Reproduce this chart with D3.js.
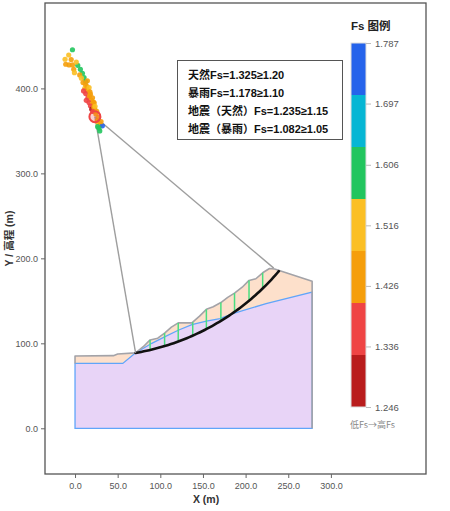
<!DOCTYPE html>
<meta charset="utf-8">
<script src="https://d3js.org/d3.v7.min.js"></script>
<style>
  body { margin: 0; background: #fff; }
  text { font-family: "Liberation Sans", Arial, "Noto Sans CJK SC", sans-serif; }
  .cjk { font-family: "Noto Sans CJK SC", "Noto Sans", sans-serif; }
  .mix { font-family: "Liberation Sans", Arial, "Noto Sans CJK SC", sans-serif; }
</style>
<div id="chart"></div>
<script>
// ground surface (top of model) in metres
var groundX = [0, 45, 50, 71, 80, 88, 97, 105, 113, 121, 137, 146, 154, 162, 171, 179, 187, 196, 204, 212, 220, 228, 234, 278];
var groundY = [85, 85.5, 87.5, 88.7, 96, 104, 106, 112, 119, 124, 124, 132, 140, 143, 148, 154, 159, 166, 174, 176, 183, 188, 187.5, 173];

// soil layer boundary (blue line)
var layerX = [0, 56, 70, 90, 105, 121, 137, 154, 170, 185, 224, 278];
var layerY = [76.3, 76.3, 88, 100, 107.5, 115.4, 122, 126, 129, 135, 146.7, 160.3];

// critical slip circle
var slipCenter = [23.3, 366.7];
var slipToe = [71, 88.7];
var slipEndX = 239;
var radiusEnd = [233, 188.5];

// slice boundaries
var sliceX = [88, 105, 121, 138, 154, 171, 187, 204, 220];

// searched circle centers and their Fs
var centerX  = [-3.0, -7.4, -11.7, -10.9, -7.0, -3.0, 3.2, -1.5, 6.3, -0.7, 8.7, 5.5, 10.6, 7.5, 12.5, 9.4, 12.5, 11.4, 14.0, 15.2, 12.5, 18.1, 15.2, 17.0, 19.2, 16.4, 20.4, 21.5, 18.1, 19.6, 23.1, 22.0, 21.1, 24.5, 27.0, 26.0, 29.5, 32.1, 28.1,
                14.5, 16.5, 17.5, 20.5, 22.5, 23.5, 25.5, 27.5, 30.5, 29.0, 26.5, -4.5, 1.5, 10.0, 13.2];
var centerY  = [445.5, 439.3, 434.3, 428.4, 427.6, 427.6, 427.2, 422.5, 422.5, 418.5, 417.8, 415.8, 412.7, 412.0, 408.0, 406.8, 404.1, 400.2, 402.0, 397.1, 393.9, 393.2, 389.2, 391.0, 386.2, 383.3, 381.5, 384.0, 379.5, 375.6, 375.6, 378.0, 372.8, 370.0, 359.9, 362.0, 357.0, 356.0, 353.3,
                409.0, 401.0, 396.0, 389.0, 383.0, 379.0, 373.0, 366.0, 361.0, 350.0, 355.0, 434.0, 431.0, 397.0, 386.0];
var centerFs = [1.59, 1.52, 1.52, 1.45, 1.45, 1.45, 1.59, 1.44, 1.59, 1.52, 1.59, 1.44, 1.59, 1.52, 1.59, 1.44, 1.44, 1.52, 1.45, 1.44, 1.36, 1.45, 1.36, 1.44, 1.45, 1.36, 1.52, 1.45, 1.36, 1.28, 1.44, 1.45, 1.36, 1.44, 1.52, 1.45, 1.45, 1.75, 1.59,
                1.45, 1.52, 1.45, 1.44, 1.45, 1.52, 1.44, 1.44, 1.45, 1.59, 1.59, 1.45, 1.52, 1.36, 1.36];

// result lines
var resultLines = ["天然Fs=1.325≥1.20", "暴雨Fs=1.178≥1.10", "地震（天然）Fs=1.235≥1.15", "地震（暴雨）Fs=1.082≥1.05"];

// legend
var legendColors = ["#b91c1c", "#ef4444", "#f59e0b", "#fbbf24", "#22c55e", "#06b6d4", "#2563eb"];
var legendTicks = [1.246, 1.336, 1.426, 1.516, 1.606, 1.697, 1.787];

var xTicks = [0, 50, 100, 150, 200, 250, 300];
var yTicks = [0, 100, 200, 300, 400];

var W = 450, H = 511;
var margin = {top: 3, left: 45, right: 24, bottom: 37};

var svg = d3.select("#chart").append("svg")
  .attr("width", W).attr("height", H);

var x = d3.scaleLinear().domain([-35.2, 411.5]).range([margin.left, W - margin.right]);
var y = d3.scaleLinear().domain([-53.8, 500.5]).range([H - margin.bottom, margin.top]);

var color = d3.scaleQuantize().domain([legendTicks[0], legendTicks[legendTicks.length - 1]]).range(legendColors);

// model
var surface = groundX.map(function(d, i) { return [d, groundY[i]]; });
var layer = layerX.map(function(d, i) { return [d, layerY[i]]; });
var xMax = groundX[groundX.length - 1];

var line = d3.line().x(function(d) { return x(d[0]); }).y(function(d) { return y(d[1]); });

svg.append("path")
  .attr("d", line(surface.concat([[xMax, 0], [0, 0]])) + "Z")
  .attr("fill", "#fde0cb");

svg.append("path")
  .attr("d", line(layer.concat([[xMax, 0], [0, 0]])) + "Z")
  .attr("fill", "#e8d4f7")
  .attr("stroke", "#60a5fa")
  .attr("stroke-width", 1.3);

svg.append("path")
  .attr("d", line([[0, layerY[0]]].concat(surface).concat([[xMax, 0]])))
  .attr("fill", "none")
  .attr("stroke", "#a3a3a8")
  .attr("stroke-width", 1.6)
  .attr("stroke-linejoin", "round");

// slip circle helpers
var R = Math.hypot(slipToe[0] - slipCenter[0], slipToe[1] - slipCenter[1]);
function arcY(px) { return slipCenter[1] - Math.sqrt(R * R - (px - slipCenter[0]) * (px - slipCenter[0])); }
function surfY(px) {
  for (var i = 1; i < groundX.length; i++) {
    if (px <= groundX[i]) {
      var t = (px - groundX[i - 1]) / (groundX[i] - groundX[i - 1]);
      return groundY[i - 1] + t * (groundY[i] - groundY[i - 1]);
    }
  }
  return groundY[groundY.length - 1];
}

// slices
svg.append("g").selectAll("line")
  .data(sliceX)
  .enter().append("line")
  .attr("x1", function(d) { return x(d); })
  .attr("x2", function(d) { return x(d); })
  .attr("y1", function(d) { return y(arcY(d)); })
  .attr("y2", function(d) { return y(surfY(d)); })
  .attr("stroke", "#4ade80")
  .attr("stroke-width", 1.5);

// slip arc
var a0 = Math.atan2(slipToe[1] - slipCenter[1], slipToe[0] - slipCenter[0]);
var a1 = Math.atan2(arcY(slipEndX) - slipCenter[1], slipEndX - slipCenter[0]);
var arcPts = d3.range(0, 61).map(function(i) {
  var a = a0 + (a1 - a0) * i / 60;
  return [slipCenter[0] + R * Math.cos(a), slipCenter[1] + R * Math.sin(a)];
});
svg.append("path")
  .attr("d", line(arcPts))
  .attr("fill", "none")
  .attr("stroke", "#111")
  .attr("stroke-width", 2.6)
  .attr("stroke-linecap", "round");

// radius lines
svg.append("g").selectAll("line")
  .data([slipToe, radiusEnd])
  .enter().append("line")
  .attr("x1", x(slipCenter[0])).attr("y1", y(slipCenter[1]))
  .attr("x2", function(d) { return x(d[0]); })
  .attr("y2", function(d) { return y(d[1]); })
  .attr("stroke", "#9e9e9e")
  .attr("stroke-width", 1.4);

// search centers
svg.append("g").selectAll("circle")
  .data(centerX)
  .enter().append("circle")
  .attr("cx", function(d) { return x(d); })
  .attr("cy", function(d, i) { return y(centerY[i]); })
  .attr("r", 2.6)
  .attr("fill", function(d, i) { return color(centerFs[i]); })
  .attr("opacity", 0.9);

svg.append("circle")
  .attr("cx", x(slipCenter[0])).attr("cy", y(slipCenter[1]))
  .attr("r", 5.5)
  .attr("fill", "rgba(239,68,68,0.25)")
  .attr("stroke", "#ef4444")
  .attr("stroke-width", 2);

// frame + axes
svg.append("rect")
  .attr("x", margin.left).attr("y", margin.top)
  .attr("width", W - margin.left - margin.right)
  .attr("height", H - margin.top - margin.bottom)
  .attr("fill", "none")
  .attr("stroke", "#555")
  .attr("stroke-width", 1.3);

var xAxis = svg.append("g")
  .attr("transform", "translate(0," + (H - margin.bottom) + ")")
  .call(d3.axisBottom(x).tickValues(xTicks).tickFormat(d3.format(".1f")).tickSize(4).tickPadding(5));
var yAxis = svg.append("g")
  .attr("transform", "translate(" + margin.left + ",0)")
  .call(d3.axisLeft(y).tickValues(yTicks).tickFormat(d3.format(".1f")).tickSize(4).tickPadding(3));
[xAxis, yAxis].forEach(function(g) {
  g.select(".domain").remove();
  g.selectAll(".tick line").attr("stroke", "#666");
  g.selectAll(".tick text").attr("fill", "#555").style("font-size", "9px");
});

svg.append("text")
  .attr("x", 206).attr("y", 503)
  .attr("text-anchor", "middle")
  .attr("fill", "#333")
  .style("font-size", "10.5px").style("font-weight", "bold")
  .text("X (m)");

svg.append("text")
  .attr("class", "mix")
  .attr("transform", "translate(13," + ((H - margin.bottom + margin.top) / 2) + ") rotate(-90)")
  .attr("text-anchor", "middle")
  .attr("fill", "#333")
  .style("font-size", "10.5px").style("font-weight", "bold")
  .text("Y / 高程 (m)");

// result box
svg.append("rect")
  .attr("x", 177.5).attr("y", 60.5)
  .attr("width", 165).attr("height", 79)
  .attr("fill", "#fff")
  .attr("stroke", "#555")
  .attr("stroke-width", 1);

svg.append("g").selectAll("text")
  .data(resultLines)
  .enter().append("text")
  .attr("class", "mix")
  .attr("x", 188)
  .attr("y", function(d, i) { return 79 + i * 18; })
  .attr("fill", "#111")
  .style("font-size", "11px").style("font-weight", "bold")
  .text(function(d) { return d; });

// legend
var lx = 351, lw = 15;
var ly = d3.scaleLinear().domain([legendTicks[0], legendTicks[legendTicks.length - 1]]).range([407, 43]);
var bounds = [ly.domain()[0]].concat(color.thresholds()).concat([ly.domain()[1]]);

svg.append("text")
  .attr("class", "mix")
  .attr("x", lx).attr("y", 30)
  .attr("fill", "#222")
  .style("font-size", "11.5px").style("font-weight", "bold")
  .text("Fs 图例");

svg.append("g").selectAll("rect")
  .data(legendColors)
  .enter().append("rect")
  .attr("x", lx)
  .attr("y", function(d, i) { return ly(bounds[i + 1]); })
  .attr("width", lw)
  .attr("height", function(d, i) { return ly(bounds[i]) - ly(bounds[i + 1]); })
  .attr("fill", function(d) { return d; });

svg.append("rect")
  .attr("x", lx).attr("y", ly.range()[1])
  .attr("width", lw).attr("height", ly.range()[0] - ly.range()[1])
  .attr("fill", "none").attr("stroke", "#ddd").attr("stroke-width", 1);

var lAxis = svg.append("g")
  .attr("transform", "translate(" + (lx + lw) + ",0)")
  .call(d3.axisRight(ly).tickValues(legendTicks).tickFormat(d3.format(".3f")).tickSize(5).tickPadding(4));
lAxis.select(".domain").remove();
lAxis.selectAll(".tick line").attr("stroke", "#bbb");
lAxis.selectAll(".tick text").attr("fill", "#555").style("font-size", "9.5px");

svg.append("text")
  .attr("class", "cjk")
  .attr("x", lx - 1).attr("y", 428)
  .attr("fill", "#888")
  .style("font-size", "9px")
  .text("低Fs→高Fs");
</script>
